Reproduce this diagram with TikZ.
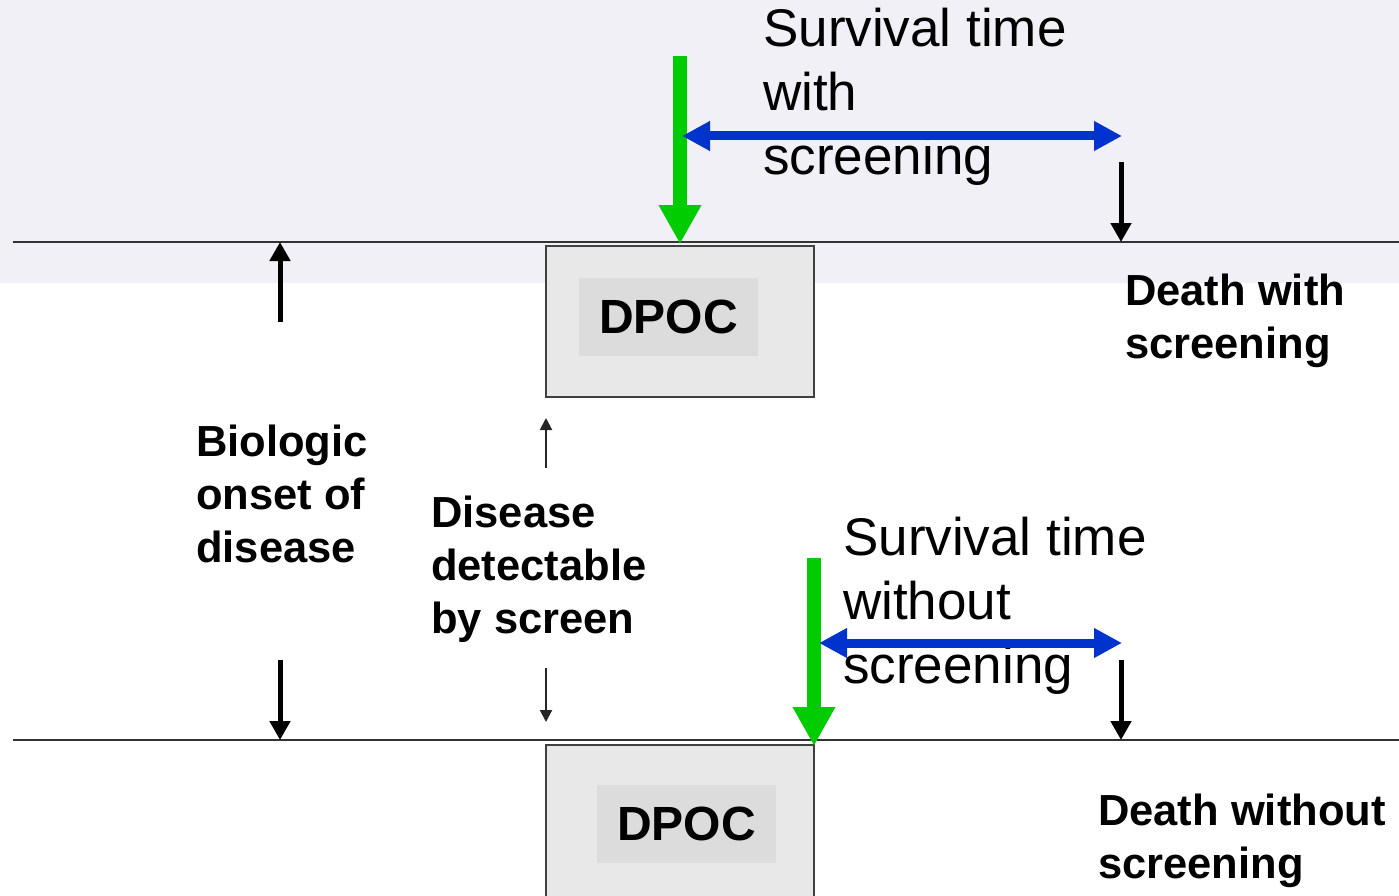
\documentclass[tikz,border=0pt]{standalone}
\usepackage{fontspec}
\setmainfont{Liberation Sans}
\usetikzlibrary{arrows.meta}
\definecolor{bandcol}{HTML}{F0F0F6}
\definecolor{boxout}{HTML}{E8E8E8}
\definecolor{boxin}{HTML}{DCDCDC}
\definecolor{greenarr}{HTML}{00CC00}
\definecolor{bluearr}{HTML}{0033CC}
\definecolor{linecol}{HTML}{333333}
\begin{document}
\begin{tikzpicture}[x=1pt,y=-1pt,
  timeline/.style={draw=linecol,line width=2pt},
  dpocbox/.style={draw=black!75,fill=boxout,line width=2pt,minimum width=268pt,minimum height=151pt,inner sep=0pt},
  dpoclabel/.style={fill=boxin,minimum width=179pt,minimum height=78pt,inner sep=0pt,font=\fontsize{48}{56}\selectfont\bfseries},
  greenarrow/.style={draw=greenarr,line width=14pt,-{Triangle[length=39pt,width=40pt]}},
  bluearrow/.style={draw=bluearr,line width=9pt,{Triangle[length=28pt,width=28pt]}-{Triangle[length=28pt,width=28pt]}},
  blackarrow/.style={draw=black,line width=5pt,-{Triangle[length=19pt,width=20pt]}},
  thinarrow/.style={draw=black!85,line width=2pt,-{Triangle[length=12pt,width=12pt]}},
  plaintext/.style={align=left,inner sep=0pt,anchor=base west,font=\fontsize{53}{64}\selectfont},
  boldtext/.style={align=left,inner sep=0pt,anchor=base west,font=\fontsize{43.5}{53}\selectfont\bfseries}]
\useasboundingbox (0,0) rectangle (1399,896);
\clip (0,0) rectangle (1399,896);
\fill[bandcol] (0,0) rectangle (1399,283);
% timelines
\coordinate (t1a) at (13,242); \coordinate (t1b) at (1399,242);
\coordinate (t2a) at (13,740); \coordinate (t2b) at (1399,740);
\draw[timeline] (t1a) -- (t1b);
\draw[timeline] (t2a) -- (t2b);
% DPOC boxes
\node[dpocbox] (box1) at (680,321.5) {};
\node[dpoclabel] (dpoc1) at (668.5,317) {DPOC};
\node[dpocbox,minimum height=170pt] (box2) at (680,830) {};
\node[dpoclabel] (dpoc2) at (686.5,824) {DPOC};
% top group
\coordinate (g1s) at (680,56); \coordinate (g1e) at (680,244);
\draw[greenarrow] (g1s) -- (g1e);
\node[plaintext] (surv1) at (763,175) {Survival time\\with\\screening};
\coordinate (b1l) at (682,136); \coordinate (b1r) at (1122,136);
\draw[bluearrow] (b1l) -- (b1r);
\coordinate (d1s) at (1121,162); \coordinate (d1e) at (1121,242);
\draw[blackarrow] (d1s) -- (d1e);
\node[boldtext] (death1) at (1125,358) {Death with\\screening};
% bottom group
\coordinate (g2s) at (814,558); \coordinate (g2e) at (814,746);
\draw[greenarrow] (g2s) -- (g2e);
\node[plaintext] (surv2) at (843,683) {Survival time\\without\\screening};
\coordinate (b2l) at (819,643); \coordinate (b2r) at (1122,643);
\draw[bluearrow] (b2l) -- (b2r);
\coordinate (d2s) at (1121,660); \coordinate (d2e) at (1121,740);
\draw[blackarrow] (d2s) -- (d2e);
\node[boldtext] (death2) at (1098,878) {Death without\\screening};
% left group
\coordinate (o1s) at (280,322); \coordinate (o1e) at (280,242);
\draw[blackarrow] (o1s) -- (o1e);
\coordinate (o2s) at (280,660); \coordinate (o2e) at (280,740);
\draw[blackarrow] (o2s) -- (o2e);
\node[boldtext] (onset) at (196,562) {Biologic\\onset of\\disease};
% detectable
\coordinate (s1s) at (546,468); \coordinate (s1e) at (546,418);
\draw[thinarrow] (s1s) -- (s1e);
\coordinate (s2s) at (546,668); \coordinate (s2e) at (546,722);
\draw[thinarrow] (s2s) -- (s2e);
\node[boldtext] (detect) at (431,633) {Disease\\detectable\\by screen};
\end{tikzpicture}
\end{document}
